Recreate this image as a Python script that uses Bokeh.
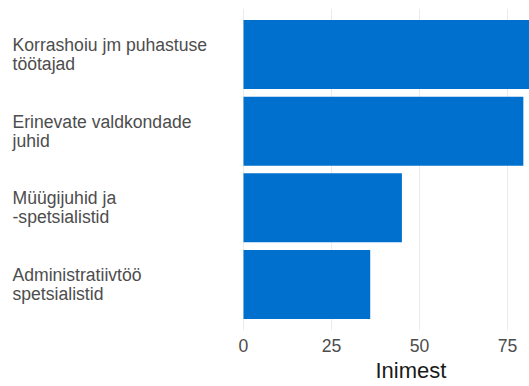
from bokeh.plotting import figure
from bokeh.models import Range1d, FactorRange, Title, ColumnDataSource
from bokeh.core.properties import value
from bokeh.embed import file_html
from bokeh.resources import INLINE

categories = ["Korrashoiu jm puhastuse\ntöötajad",
              "Erinevate valdkondade\njuhid",
              "Müügijuhid ja\n-spetsialistid",
              "Administratiivtöö\nspetsialistid"]
values = [82, 79.5, 45, 36]
x_ticks = [0, 25, 50, 75]
x_title = "Inimest"

FONT = "Liberation Sans"
PX_PER_UNIT = 3.52            # horizontal scale of the reference
LABEL_X = -231 / PX_PER_UNIT  # left edge of the category labels (style position)

factors = list(reversed(categories))
y_range = FactorRange(factors=factors, range_padding=0.05)
p = figure(width=529, height=386, y_range=y_range,
           x_range=Range1d(-243 / PX_PER_UNIT, 286 / PX_PER_UNIT),
           output_backend="svg", toolbar_location=None,
           min_border_left=0, min_border_right=0, min_border_top=8, min_border_bottom=56)

src = ColumnDataSource(dict(cat=categories, val=values,
                            lx=[LABEL_X] * len(categories)))
p.hbar(y="cat", right="val", left=0, height=0.9, color="#0070CE", line_color=None, source=src)
p.text(x="lx", y="cat", text="cat", source=src, text_align="left", text_baseline="middle",
       text_font=value(FONT), text_font_size="17.6px", text_color="#4D4D4D",
       text_line_height=0.95)

p.yaxis.visible = False
p.ygrid.grid_line_color = None
p.xgrid.grid_line_color = "#EBEBEB"
p.xgrid.grid_line_width = 1
p.xaxis.ticker = x_ticks
p.xaxis.axis_line_color = None
p.xaxis.major_tick_line_color = None
p.xaxis.minor_tick_line_color = None
p.xaxis.major_tick_out = 0
p.xaxis.major_label_standoff = 8
p.xaxis.major_label_text_font = FONT
p.xaxis.major_label_text_font_size = "17.6px"
p.xaxis.major_label_text_color = "#4D4D4D"
p.outline_line_color = None
p.background_fill_color = "white"
p.border_fill_color = "white"

p.add_layout(Title(text=x_title, align="left", offset=375, standoff=2,
                   text_font=FONT, text_font_size="22px", text_font_style="normal",
                   text_color="#1A1A1A"), "below")

open("out.html", "w").write(file_html(p, INLINE))
